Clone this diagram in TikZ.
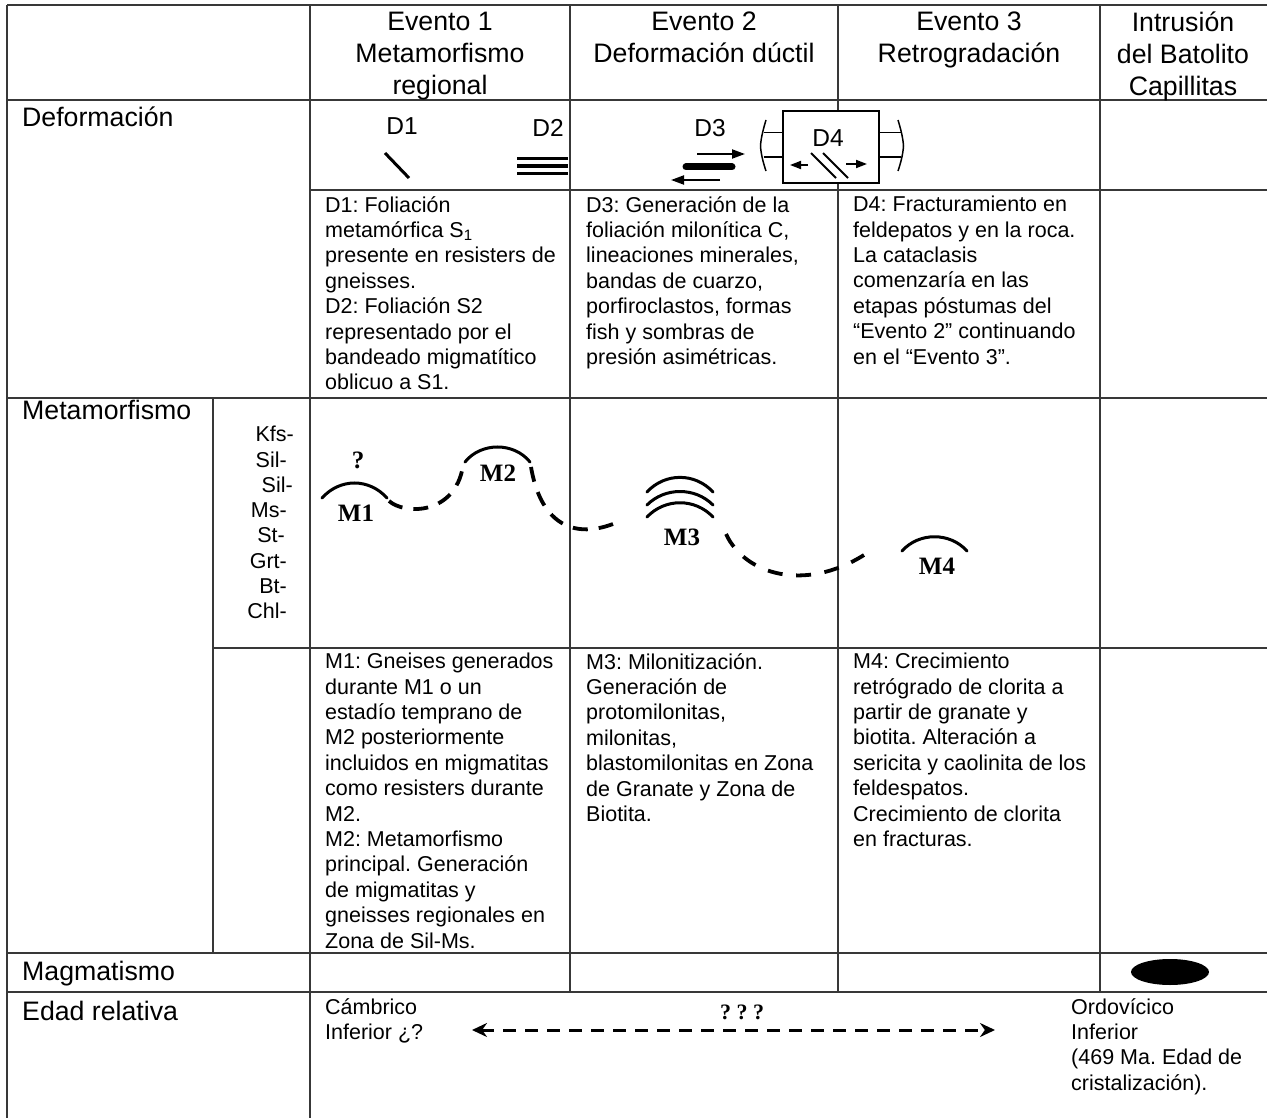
\documentclass[tikz,border=0pt]{standalone}
\usepackage{fontspec}
\setmainfont{Liberation Sans}
\newfontfamily\tms{Liberation Serif}
\frenchspacing
\usetikzlibrary{arrows.meta,
	calc,
	positioning,
	shapes}
\tikzstyle{ln}=[draw=black!78, line width=1.8pt]
\tikzstyle{hd}=[inner sep=0pt, anchor=north, align=center, font=\fontsize{26.7}{32}\selectfont]
\tikzstyle{rw}=[inner sep=0pt, anchor=base west, font=\fontsize{26.7}{32}\selectfont]
\tikzstyle{tx}=[inner sep=0pt, anchor=north west, align=left, font=\fontsize{21.5}{25.4}\selectfont]
\tikzstyle{mn}=[inner sep=0pt, anchor=base east, font=\fontsize{21.5}{25}\selectfont]
\tikzstyle{dl}=[inner sep=0pt, anchor=base, font=\fontsize{24.5}{28}\selectfont]
\tikzstyle{ml}=[inner sep=0pt, font=\fontsize{25}{28}\selectfont\tms\bfseries]
\tikzstyle{mc}=[line width=3pt, line cap=round]
\tikzstyle{dsh}=[line width=3.8pt, dash pattern=on 15pt off 11pt]
\tikzstyle{sym}=[line width=2pt]
\tikzstyle{hd1}=[-{Triangle[length=13pt,width=9pt]}]
\tikzstyle{hd2}=[-{Triangle[length=11pt,width=8pt]}]

\begin{document}
\begin{tikzpicture}[x=1pt, y=-1pt]
\useasboundingbox[fill=white] (0,0) rectangle (1267,1118);
\draw[ln] (7,5) -- (1267,5);
\draw[ln] (7,100) -- (1267,100);
\draw[ln] (310,190) -- (1267,190);
\draw[ln] (7,398) -- (1267,398);
\draw[ln] (213,648) -- (1267,648);
\draw[ln] (7,953) -- (1267,953);
\draw[ln] (7,992) -- (1267,992);
\draw[ln] (7,5) -- (7,1118);
\draw[ln] (310,5) -- (310,1118);
\draw[ln] (213,398) -- (213,953);
\draw[ln] (570,5) -- (570,992);
\draw[ln] (838,5) -- (838,992);
\draw[ln] (1100,5) -- (1100,992);

\node[hd] (ev1) at (440,12) {Evento 1\\Metamorfismo\\regional};
\node[hd] (ev2) at (704,12) {Evento 2\\Deformación dúctil};
\node[hd] (ev3) at (969,12) {Evento 3\\Retrogradación};
\node[hd] (ev4) at (1183,12) {Intrusión\\del Batolito\\Capillitas};

\node[rw] (rdef) at (22,127) {Deformación};
\node[rw] (rmet) at (22,419) {Metamorfismo};
\node[rw] (rmag) at (22,980) {Magmatismo};
\node[rw] (reda) at (22,1020) {Edad relativa};

\node[dl] (d1) at (402,135) {D1};
\node[dl] (d2) at (548,137) {D2};
\node[dl] (d3) at (710,137) {D3};
\draw[line width=3pt] (385,153) -- (409,178);
\draw[line width=3.5pt] (517,158.5) -- (568,158.5);
\draw[line width=3.5pt] (517,166) -- (568,166);
\draw[line width=3.5pt] (517,173.5) -- (568,173.5);
\draw[sym, hd1] (697,154) -- (745,154);
\draw[line width=7pt, line cap=round] (686,167) -- (732,167);
\draw[sym, hd1] (720,180) -- (671,180);
\node[draw, line width=2pt, fill=white, minimum width=96pt, minimum height=72pt, inner sep=0pt] (box) at (831,147) {};
\node[dl] (d4) at (828,147) {D4};
\draw[sym] (811,153) -- (836,178);
\draw[sym] (823,153) -- (848,178);
\draw[line width=1.8pt, hd2] (808,165) -- (790,165);
\draw[line width=1.8pt, hd2] (846,164) -- (867,164);
\draw[line width=1.5pt] (766,120) .. controls (763,130) and (761,138) .. (760.5,146) .. controls (761,154) and (763,162) .. (766,171);
\draw[line width=1.5pt] (763.5,132.5) -- (box.west |- 0,132.5);
\draw[line width=1.5pt] (763.5,157) -- (box.west |- 0,157);
\draw[line width=1.5pt] (898,120) .. controls (901,130) and (903,138) .. (903.5,146) .. controls (903,154) and (901,162) .. (898,171);
\draw[line width=1.5pt] (box.east |- 0,132.5) -- (900.5,132.5);
\draw[line width=1.5pt] (box.east |- 0,157) -- (900.5,157);

\node[tx] (t1) at (325,196) {D1: Foliación\\metamórfica S\textsubscript{1}\\presente en resisters de\\gneisses.\\D2: Foliación S2\\representado por el\\bandeado migmatítico\\oblicuo a S1.};
\node[tx] (t2) at (586,196) {D3: Generación de la\\foliación milonítica C,\\lineaciones minerales,\\bandas de cuarzo,\\porfiroclastos, formas\\fish y sombras de\\presión asimétricas.};
\node[tx] (t3) at (853,196) {D4: Fracturamiento en\\feldepatos y en la roca.\\La cataclasis\\comenzaría en las\\etapas póstumas del\\“Evento 2” continuando\\en el “Evento 3”.};

\node[mn] (kfs) at (294,441) {Kfs-};
\node[mn] (sil1) at (287,467.5) {Sil-};
\node[mn] (sil2) at (293,492.5) {Sil-};
\node[mn] (ms) at (287,517.5) {Ms-};
\node[mn] (st) at (285,542.5) {St-};
\node[mn] (grt) at (287,568) {Grt-};
\node[mn] (bt) at (287,593) {Bt-};
\node[mn] (chl) at (287,618) {Chl-};

\coordinate (m1a) at (322,498);
\coordinate (m1b) at (387,498);
\coordinate (m2a) at (465,462);
\coordinate (m2b) at (530,462);
\coordinate (m4a) at (902,551);
\coordinate (m4b) at (967,551);
\draw[mc] (m1a) .. controls (340,478) and (369,478) .. (m1b);
\draw[mc] (m2a) .. controls (481,442) and (514,442) .. (m2b);
\draw[mc] (647,492) .. controls (665,472.5) and (695,472.5) .. (713,492);
\draw[mc] (647,505) .. controls (665,487) and (695,487) .. (713,505);
\draw[mc] (647,517) .. controls (665,498) and (695,498) .. (713,517);
\draw[mc] (m4a) .. controls (919,532) and (950,532) .. (m4b);
\node[ml] (q1) at (358,460) {?};
\node[ml] (m1) at (356,513) {M1};
\node[ml] (m2) at (498,473) {M2};
\node[ml] (m3) at (682,537) {M3};
\node[ml] (m4) at (937,566) {M4};

\coordinate (p1) at (389,501);
\coordinate (p2) at (463,466);
\coordinate (p3) at (531,467);
\coordinate (p4) at (613,524);
\coordinate (p5) at (726,534);
\coordinate (p6) at (864,555);
\draw[dsh] (p1) .. controls (405,515) and (455,515) .. (p2);
\draw[dsh] (p3) .. controls (540,520) and (570,540) .. (p4);
\draw[dsh, dash pattern=on 15pt off 13.6pt] (p5) .. controls (745,575) and (805,592) .. (p6);

\node[tx] (t4) at (325,653) {M1: Gneises generados\\durante M1 o un\\estadío temprano de\\M2 posteriormente\\incluidos en migmatitas\\como resisters durante\\M2.\\M2: Metamorfismo\\principal. Generación\\de migmatitas y\\gneisses regionales en\\Zona de Sil-Ms.};
\node[tx] (t5) at (586,653) {M3: Milonitización.\\Generación de\\protomilonitas,\\milonitas,\\blastomilonitas en Zona\\de Granate y Zona de\\Biotita.};
\node[tx] (t6) at (853,653) {M4: Crecimiento\\retrógrado de clorita a\\partir de granate y\\biotita. Alteración a\\sericita y caolinita de los\\feldespatos.\\Crecimiento de clorita\\en fracturas.};

\node[ellipse, fill=black, minimum width=78pt, minimum height=26pt, inner sep=0pt] (bat) at (1170,972) {};

\node[tx] (cam) at (325,998) {Cámbrico\\Inferior ¿?};
\node[tx] (ord) at (1071,998) {Ordovícico\\Inferior\\(469 Ma. Edad de\\cristalización).};
\coordinate (ea) at (472,1030);
\coordinate (eb) at (995,1030);
\draw[line width=3pt, dash pattern=on 13pt off 9pt, {Stealth[length=15pt,width=14pt]}-{Stealth[length=15pt,width=14pt]}] (ea) -- (eb);
\node[ml, font=\fontsize{22}{24}\selectfont\tms\bfseries] (qq) at (742,1012) {? ? ?};
\end{tikzpicture}
\end{document}
